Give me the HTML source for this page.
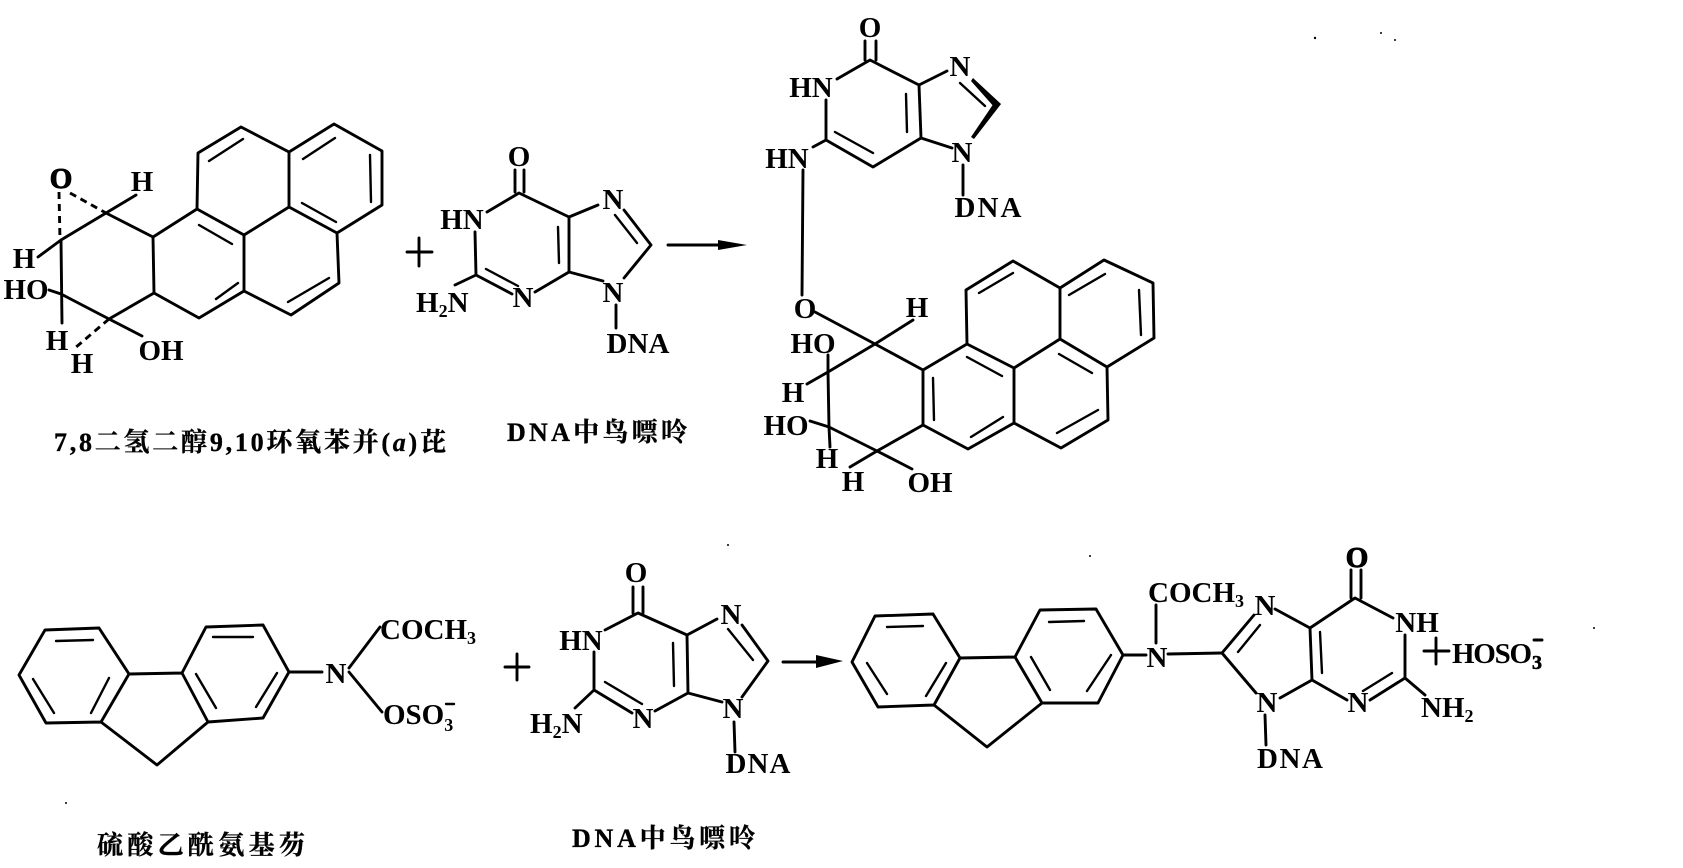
<!DOCTYPE html>
<html><head><meta charset="utf-8"><style>
html,body{margin:0;padding:0;background:#fff}
svg{display:block}
text{font-family:"Liberation Serif","Noto Serif CJK SC",serif;font-size:29px;font-weight:bold;fill:#000;text-anchor:middle}
.s{text-anchor:start}
.c{font-size:26px;stroke:#000;stroke-width:.35px;text-anchor:start}
.b{fill:none;stroke:#000;stroke-width:2.9;stroke-linecap:round;stroke-linejoin:round}
.t{fill:none;stroke:#000;stroke-width:2.4;stroke-linecap:round}
.d{fill:none;stroke:#000;stroke-width:2.9;stroke-dasharray:7 5}
</style></head><body>
<svg width="1683" height="868" viewBox="0 0 1683 868" xmlns="http://www.w3.org/2000/svg">
<rect width="1683" height="868" fill="#fff"/>

<!-- top-left pyrene epoxide -->
<path class="b" d="M241 127L198 153L197 209L244 235L289 207L289 152L241 127M289 152L334 124L382 151L382 205L337 233L289 207M244 235L244 291L199 318L154 293L153 237L197 209M244 291L291 315L339 283L337 233M153 237L106 213L61 240L62 323M61 294L109 319L154 293M106 213L136 195M61 240L38 257M109 319L142 336M61 294L49 290"/>
<path class="t" d="M209 161L243 139M303 159L335 138M370 155L371 202M302 203L336 222M199 225L232 244M216 299L238 283M288 302L329 278"/>
<path class="d" d="M59 192L60 240M70 193L106 213M109 319L75 348"/>
<text x="61" y="188" style="stroke:#000;stroke-width:1px">O</text><text x="142" y="191">H</text><text x="24" y="268">H</text>
<text x="26" y="299">HO</text><text x="57" y="350">H</text><text x="82" y="373">H</text><text x="161" y="360">OH</text>
<text class="c" x="54" y="451" textLength="392" lengthAdjust="spacing">7,8二氢二醇9,10环氧苯并(<tspan font-style="italic">a</tspan>)芘</text>

<!-- plus + guanine 1 -->
<path class="b" d="M407 252H432M419 238V266M668 245H720"/>
<polygon points="718,240 747,245 718,250"/>
<path class="b" d="M515 170V192M524 170V192M487 212L519 193L569 217L569 272L535 292M569 217L598 205M569 272L603 281M475 232L476 275L512 294M476 275L455 285M624 210L651 245L624 278M616 305V328"/>
<path class="t" d="M486 269L518 286M558 227L559 263M615 215L637 243"/>
<text x="519" y="166">O</text><text x="462" y="229">HN</text>
<text class="s" x="416" y="312">H<tspan font-size="18" dy="5">2</tspan><tspan dy="-5">N</tspan></text>
<text x="523" y="307">N</text><text x="613" y="209">N</text><text x="613" y="302">N</text>
<text x="638" y="353" textLength="63">DNA</text>
<text class="c" x="507" y="441" textLength="180" lengthAdjust="spacing">DNA中鸟嘌呤</text>

<!-- product top -->
<path class="b" d="M865 41V60M876 41V60M837 79L870 60L919 85L921 138L873 167L826 140L826 100M919 85L947 71M921 138L952 148M826 140L813 147M963 165V195M803 170L802 295"/>
<path class="t" d="M835 132L873 153M906 94L907 132M960 83L985 106"/>
<polygon points="973,78 1001,104 995,108 971,81"/>
<polygon points="1001,104 974,139 971,137 994,103"/>
<text x="870" y="37">O</text><text x="811" y="97">HN</text><text x="787" y="168">HN</text>
<text x="960" y="76">N</text><text x="962" y="162">N</text>
<text x="988" y="217" textLength="67">DNA</text>

<!-- product lower pyrene -->
<path class="b" d="M1013 261L966 290L967 344L1014 368L1060 339L1060 288L1013 261M1060 288L1104 260L1153 283L1154 338L1107 367L1060 339M1014 368L1014 423L968 449L923 425L923 370L967 344M1014 423L1061 448L1108 420L1107 367M923 370L875 344L828 372L829 427L877 451L923 425M815 312L875 344L913 320M828 355V372L807 384M829 427L810 421M829 427L830 447M877 451L850 467M877 451L912 469"/>
<path class="t" d="M979 293L1013 273M1069 295L1105 274M1139 290L1141 335M1059 354L1092 373M967 357L1002 376M933 378L934 420M971 437L1003 417M1057 433L1098 410"/>
<text x="805" y="318">O</text><text x="917" y="317">H</text><text x="813" y="353">HO</text>
<text x="793" y="402">H</text><text x="786" y="435">HO</text><text x="827" y="468">H</text>
<text x="853" y="491">H</text><text x="930" y="492">OH</text>

<!-- lower-left fluorene -->
<path class="b" d="M45 630L99 628L129 674L101 722L46 723L19 675ZM129 674L182 673L206 627L263 625L289 672L263 718L208 722L182 673M101 722L157 765L208 722M289 672H322M349 668L380 627M349 672L382 712"/>
<path class="t" d="M56 641L93 640M33 679L54 713M109 678L91 713M213 637L253 637M277 673L256 707M196 674L216 708"/>
<text x="336" y="683">N</text>
<text class="s" x="380" y="639">COCH<tspan font-size="18" dy="5">3</tspan></text>
<text class="s" x="383" y="724">OSO<tspan font-size="18" dy="7">3</tspan></text>
<path class="t" d="M446 704H454"/>
<text class="c" x="97" y="854" textLength="208" lengthAdjust="spacing">硫酸乙酰氨基芴</text>

<!-- plus + guanine 2 -->
<path class="b" d="M505 667H529M517 654V680M633 587V613M643 587V613M605 630L638 613L687 635L688 693L655 711M594 652V690L632 713M594 690L575 708M687 635L717 619M688 693L722 702M742 625L768 661L742 697M734 722L735 752M783 662H820"/>
<polygon points="816,655 843,661 816,668"/>
<path class="t" d="M605 682L642 704M673 643L674 686M728 629L753 660"/>
<text x="636" y="582">O</text><text x="581" y="650">HN</text>
<text class="s" x="530" y="733">H<tspan font-size="18" dy="5">2</tspan><tspan dy="-5">N</tspan></text>
<text x="643" y="728">N</text><text x="731" y="624">N</text><text x="733" y="718">N</text>
<text x="758" y="773" textLength="65">DNA</text>
<text class="c" x="572" y="847" textLength="183" lengthAdjust="spacing">DNA中鸟嘌呤</text>

<!-- lower-right fluorene -->
<path class="b" d="M875 616L933 614L960 658L934 705L878 707L852 662ZM960 658L1015 657L1040 610L1096 609L1123 655L1098 703L1042 703L1015 657M934 705L987 747L1042 703M1123 655H1146M1156 605V643M1168 654L1222 653"/>
<path class="t" d="M887 627L923 626M867 663L887 694M946 663L926 696M1049 622L1084 621M1111 655L1087 691M1031 657L1050 690"/>
<text x="1157" y="667">N</text>
<text class="s" x="1148" y="602">COCH<tspan font-size="18" dy="5">3</tspan></text>

<!-- guanine 3 -->
<path class="b" d="M1254 615L1222 653L1256 693M1275 609L1310 628L1312 680L1280 698M1310 628L1355 598L1393 618M1351 570V598M1361 570V598M1405 635V678L1370 700M1312 680L1347 700M1405 678L1425 695M1265 715L1266 745M1424 651H1449M1436 638V664"/>
<path class="t" d="M1238 652L1260 625M1320 632L1322 673M1392 673L1363 691"/>
<text x="1357" y="567" style="stroke:#000;stroke-width:1px">O</text>
<text x="1265" y="615">N</text><text x="1267" y="712">N</text><text x="1358" y="712">N</text>
<text x="1417" y="632">NH</text>
<text class="s" x="1421" y="717">NH<tspan font-size="18" dy="5">2</tspan></text>
<text x="1290" y="768" textLength="66">DNA</text>
<text class="s" x="1452" y="663" textLength="80" lengthAdjust="spacing">HOSO</text>
<text class="s" x="1532" y="669" font-size="20" style="font-size:20px;stroke:#000;stroke-width:.6px">3</text>
<path class="b" d="M1534 640H1542"/>

<!-- specks -->
<g fill="#000"><circle cx="1315" cy="38" r="1.2"/><circle cx="1381" cy="33" r="1"/><circle cx="1395" cy="40" r="1"/><circle cx="1594" cy="628" r="1"/><circle cx="66" cy="803" r="1"/><circle cx="1090" cy="556" r="1"/><circle cx="728" cy="545" r="1"/></g>
</svg>
</body></html>
